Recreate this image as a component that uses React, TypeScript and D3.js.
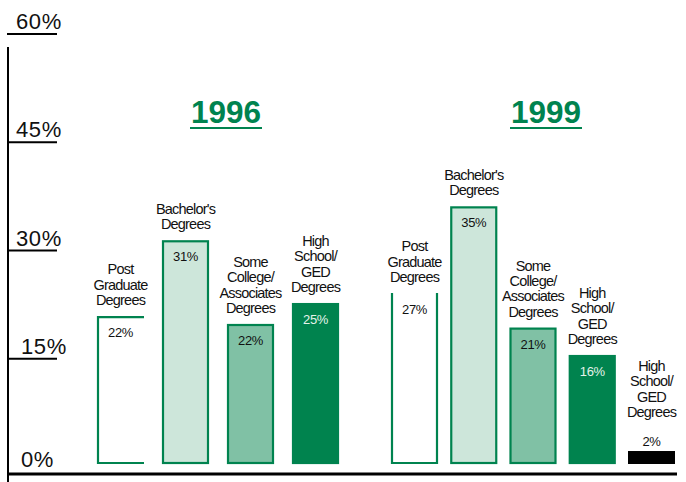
import React from "react";
import * as d3 from "d3";

const W = 686;
const H = 482;

const yTicks = [0, 15, 30, 45, 60];
const years = ["1996", "1999"];

const labels1996 = [
  "Post|Graduate|Degrees",
  "Bachelor's|Degrees",
  "Some|College/|Associates|Degrees",
  "High|School/|GED|Degrees",
];
const printed1996 = [22, 31, 22, 25];
const drawn1996 = [20.5, 31.0, 19.4, 22.3];

const labels1999 = [
  "Post|Graduate|Degrees",
  "Bachelor's|Degrees",
  "Some|College/|Associates|Degrees",
  "High|School/|GED|Degrees",
  "High|School/|GED|Degrees",
];
const printed1999 = [27, 35, 21, 16, 2];
const drawn1999 = [23.7, 35.7, 18.9, 15.1, 1.8];

const GREEN = "#00834f";
const fills = ["#ffffff", "#cde6da", "#80c1a5", "#00834e", "#000000"];
const valueColors = ["#111", "#111", "#111", "#e4f3ea", "#111"];
const FONT = "'Liberation Sans', Arial, Helvetica, sans-serif";

const y = d3.scaleLinear().domain([0, 60]).range([467, 34]);
const x1996 = d3
  .scaleBand<number>()
  .domain(d3.range(labels1996.length))
  .range([97, 339])
  .paddingInner(18 / 65)
  .paddingOuter(0);
const x1999 = d3
  .scaleBand<number>()
  .domain(d3.range(labels1999.length))
  .range([391, 675])
  .paddingInner(12.25 / 59.25)
  .paddingOuter(0);

const titleX = [226, 546];
const BAR_OFFSET = 3;

type GroupProps = {
  labels: string[];
  printed: number[];
  drawn: number[];
  xs: d3.ScaleBand<number>;
  openSide: "right" | "top";
};

function Group({ labels, printed, drawn, xs, openSide }: GroupProps) {
  const bottom = y(0) - BAR_OFFSET;
  const bw = xs.bandwidth();
  return (
    <g>
      {drawn.map((v, i) => {
        const left = xs(i)!;
        const right = left + bw;
        const top = y(v) - BAR_OFFSET;
        const cx = left + bw / 2;
        const isBlack = i === 4;
        const lines = labels[i].split("|");
        const labelBase = isBlack ? top - 34 : top - 11;
        let shape: React.ReactNode;
        if (isBlack) {
          shape = <rect x={left} y={top} width={bw} height={bottom - top} fill={fills[i]} />;
        } else if (i === 0) {
          const l = left + 1, r = right - 1, t = top + 1, b = bottom - 1;
          const d =
            openSide === "right"
              ? `M${right},${t}L${l},${t}L${l},${b}L${right},${b}`
              : `M${l},${top}L${l},${b}L${r},${b}L${r},${top}`;
          shape = (
            <g>
              <rect x={left} y={top} width={bw} height={bottom - top} fill={fills[i]} />
              <path d={d} fill="none" stroke={GREEN} strokeWidth={2.2} />
            </g>
          );
        } else {
          shape = (
            <rect
              x={left + 1}
              y={top + 1}
              width={bw - 2}
              height={bottom - top - 2}
              fill={fills[i]}
              stroke={GREEN}
              strokeWidth={2.2}
            />
          );
        }
        return (
          <g key={i}>
            {shape}
            <text
              x={cx}
              y={isBlack ? top - 5 : top + 21}
              textAnchor="middle"
              fontSize={13}
              letterSpacing={-0.4}
              fill={valueColors[i]}
            >
              {`${printed[i]}%`}
            </text>
            <text textAnchor="middle" fontSize={14.5} letterSpacing={-0.8} fill="#111">
              {lines.map((ln, k) => (
                <tspan key={k} x={cx} y={labelBase - (lines.length - 1 - k) * 15.3}>
                  {ln}
                </tspan>
              ))}
            </text>
          </g>
        );
      })}
    </g>
  );
}

export default function App() {
  return (
    <svg
      width={W}
      height={H}
      viewBox={`0 0 ${W} ${H}`}
      style={{ position: "absolute", left: 0, top: 0, background: "#fff" }}
      fontFamily={FONT}
    >
      {/* y axis */}
      <line x1={8} x2={8} y1={47} y2={H} stroke="#000" strokeWidth={2} />
      {yTicks.map((t) => (
        <g key={t}>
          {t > 0 && <line x1={7} x2={57} y1={y(t)} y2={y(t)} stroke="#000" strokeWidth={2} />}
          <text
            x={t >= 30 ? 16 : 21}
            y={t === 0 ? y(t) : y(t) - 5}
            fontSize={22}
            letterSpacing={0.6}
            fill="#111"
          >
            {`${t}%`}
          </text>
        </g>
      ))}
      {/* baseline */}
      <line x1={7} x2={677} y1={474} y2={474} stroke="#000" strokeWidth={3} />

      {years.map((yr, i) => (
        <g key={yr}>
          <text
            x={titleX[i]}
            y={123}
            textAnchor="middle"
            fontSize={31.5}
            fontWeight="bold"
            fill={GREEN}
          >
            {yr}
          </text>
          <line
            x1={titleX[i] - 36}
            x2={titleX[i] + 36}
            y1={128}
            y2={128}
            stroke={GREEN}
            strokeWidth={2.2}
          />
        </g>
      ))}

      <Group labels={labels1996} printed={printed1996} drawn={drawn1996} xs={x1996} openSide="right" />
      <Group labels={labels1999} printed={printed1999} drawn={drawn1999} xs={x1999} openSide="top" />
    </svg>
  );
}
